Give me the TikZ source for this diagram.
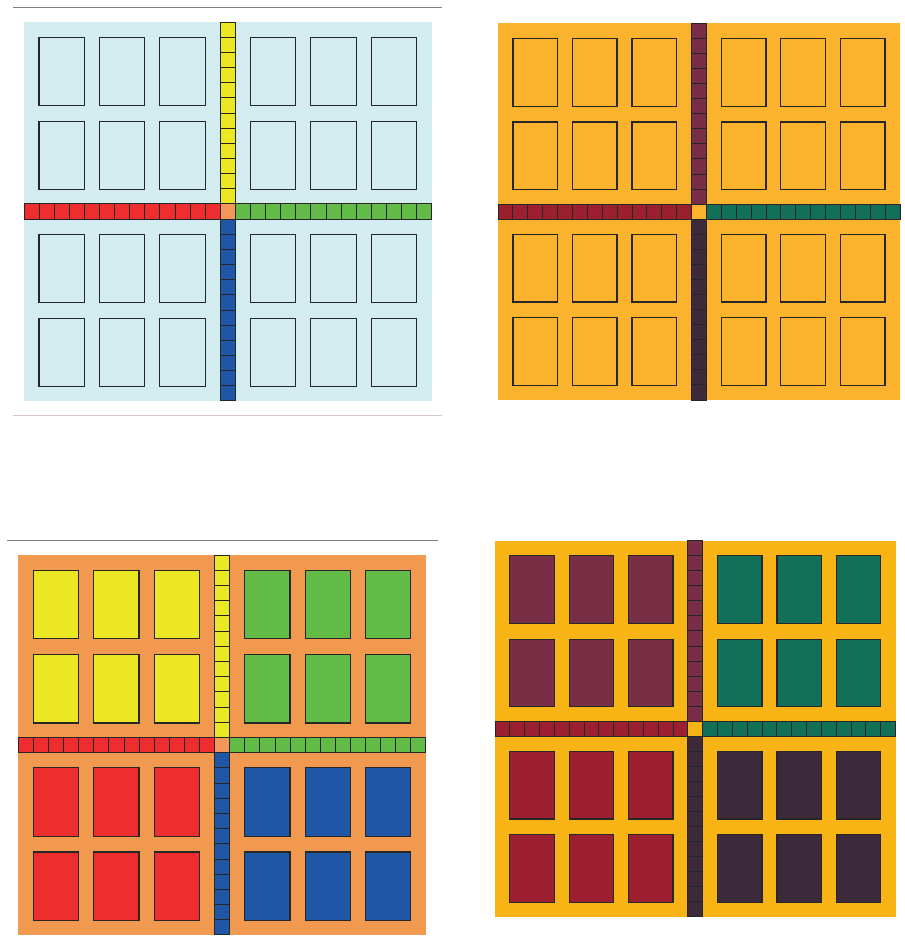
\documentclass[tikz,border=0pt]{standalone}
\usepackage{tikz}

\definecolor{paleblue}{HTML}{D3ECEF}
\definecolor{amber}{HTML}{FBB22D}
\definecolor{amberdk}{HTML}{F8B414}
\definecolor{peach}{HTML}{F1994F}
\definecolor{corange}{HTML}{F4975A}
\definecolor{cred}{HTML}{EE2E2E}
\definecolor{cgreen}{HTML}{62BB46}
\definecolor{cyellow}{HTML}{EBE723}
\definecolor{cblue}{HTML}{1F56A5}
\definecolor{wine}{HTML}{782E44}
\definecolor{plum}{HTML}{3C2A3B}
\definecolor{crimson}{HTML}{9B1F2F}
\definecolor{teal}{HTML}{137058}
\definecolor{rulepink}{HTML}{D9C6C6}

\tikzset{
  strip/.style={draw=black!85, line width=0.5pt, fill=#1},
  core/.style={draw=black!85, line width=0.7pt, fill=#1},
  rule/.style={line width=0.8pt},
  pics/mesh/.style={code={
    \fill[bgc] (0,0) rectangle (27,25);
    \foreach \i in {0,...,12} {
      \draw[strip=wc] (\i,12) rectangle ++(1,1);
      \draw[strip=ec] (\i+14,12) rectangle ++(1,1);
    }
    \foreach \i in {0,...,11} {
      \draw[strip=nc] (13,\i) rectangle ++(1,1);
      \draw[strip=sc] (13,\i+13) rectangle ++(1,1);
    }
    \draw[strip=cc] (13,12) rectangle ++(1,1);
    \foreach \cx in {1,5,9} {
      \foreach \ry in {1,6.55} {
        \draw[core=qa] (\cx,\ry) rectangle ++(3,4.5);
        \draw[core=qb] (\cx+14,\ry) rectangle ++(3,4.5);
        \draw[core=qc] (\cx,\ry+13) rectangle ++(3,4.5);
        \draw[core=qd] (\cx+14,\ry+13) rectangle ++(3,4.5);
      }
    }
  }}
}

\begin{document}
\begin{tikzpicture}[x=0.02cm, y=-0.02cm]
  \useasboundingbox (0,0) rectangle (905,943);

  % top left: empty tiles
  \draw[rule, gray] (13,7.3) -- (442,7.3);
  \draw[rule, rulepink] (13,415.5) -- (442,415.5);
  \begin{scope}[shift={(24,22)}, x=0.302cm, y=-0.3032cm]
    \colorlet{bgc}{paleblue}
    \colorlet{nc}{cyellow}\colorlet{sc}{cblue}
    \colorlet{wc}{cred}\colorlet{ec}{cgreen}\colorlet{cc}{corange}
    \colorlet{qa}{paleblue}\colorlet{qb}{paleblue}
    \colorlet{qc}{paleblue}\colorlet{qd}{paleblue}
    \pic {mesh};
  \end{scope}

  % top right
  \begin{scope}[shift={(498,23.3)}, x=0.2978cm, y=-0.3014cm]
    \colorlet{bgc}{amber}
    \colorlet{nc}{wine}\colorlet{sc}{plum}
    \colorlet{wc}{crimson}\colorlet{ec}{teal}\colorlet{cc}{amber}
    \colorlet{qa}{amber}\colorlet{qb}{amber}
    \colorlet{qc}{amber}\colorlet{qd}{amber}
    \pic {mesh};
  \end{scope}

  % bottom left: filled tiles
  \draw[rule, gray] (7,540.3) -- (437.7,540.3);
  \begin{scope}[shift={(18.3,555)}, x=0.302cm, y=-0.304cm]
    \colorlet{bgc}{peach}
    \colorlet{nc}{cyellow}\colorlet{sc}{cblue}
    \colorlet{wc}{cred}\colorlet{ec}{cgreen}\colorlet{cc}{corange}
    \colorlet{qa}{cyellow}\colorlet{qb}{cgreen}
    \colorlet{qc}{cred}\colorlet{qd}{cblue}
    \pic {mesh};
  \end{scope}

  % bottom right
  \begin{scope}[shift={(495,540.7)}, x=0.2968cm, y=-0.3008cm]
    \colorlet{bgc}{amberdk}
    \colorlet{nc}{wine}\colorlet{sc}{plum}
    \colorlet{wc}{crimson}\colorlet{ec}{teal}\colorlet{cc}{amberdk}
    \colorlet{qa}{wine}\colorlet{qb}{teal}
    \colorlet{qc}{crimson}\colorlet{qd}{plum}
    \pic {mesh};
  \end{scope}
\end{tikzpicture}
\end{document}
